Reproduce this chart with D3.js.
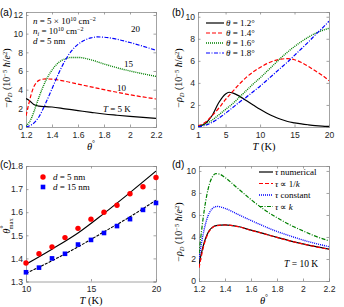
<!DOCTYPE html>
<html><head><meta charset="utf-8">
<script src="https://cdn.jsdelivr.net/npm/d3@7"></script>
<style>
body{margin:0;background:#fff}
text{font-family:"Liberation Sans",Arial,sans-serif}
.serif{font-family:"Liberation Serif","Times New Roman",serif}
</style></head>
<body><svg id="c" width="344" height="307"></svg>
<script>
// ---------- DATA ----------
// Panel (a): -rho_D vs theta for several T
const aTheta5  = [1.2,1.22,1.24,1.26,1.28,1.3,1.35,1.4,1.5,1.6,1.7,1.8,1.9,2.0,2.1,2.2];
const aT5      = [3.05,2.9,2.65,2.42,2.3,2.24,2.18,2.14,1.95,1.76,1.57,1.39,1.26,1.14,1.03,0.93];
const aTheta10 = [1.2,1.22,1.24,1.26,1.28,1.3,1.35,1.4,1.5,1.6,1.7,1.8,1.9,2.0,2.1,2.2];
const aT10     = [1.2,2.4,3.5,4.3,4.75,5.0,5.15,5.12,4.9,4.6,4.3,4.0,3.72,3.45,3.22,3.0];
const aTheta15 = [1.2,1.22,1.24,1.26,1.28,1.3,1.35,1.4,1.45,1.5,1.55,1.6,1.7,1.8,1.9,2.0,2.1,2.2];
const aT15     = [0.1,0.4,0.9,1.6,2.4,3.2,4.9,6.1,6.9,7.3,7.45,7.45,7.2,6.75,6.35,6.0,5.7,5.42];
const aTheta20 = [1.2,1.25,1.3,1.35,1.4,1.45,1.5,1.55,1.6,1.65,1.7,1.75,1.8,1.9,2.0,2.1,2.2];
const aT20     = [0.0,0.3,1.1,2.5,4.1,5.7,7.1,8.15,8.85,9.3,9.55,9.65,9.62,9.4,9.05,8.65,8.22];
const aLabels  = ["T = 5 K","10","15","20"];

// Panel (b): -rho_D vs T for several theta
const bT     = [1,2,3,4,5,5.5,6,7,8,9,10,11,12,13,14,15,16,17,18,19,20];
const b12    = [0.05,0.3,1.0,2.2,3.0,3.15,3.1,2.8,2.4,2.0,1.6,1.25,0.95,0.7,0.5,0.38,0.28,0.2,0.13,0.08,0.05];
const b14    = [0.1,0.4,1.0,1.7,2.5,2.85,3.2,3.9,4.5,5.0,5.4,5.75,6.0,6.15,6.2,6.1,5.85,5.5,5.1,4.7,4.2];
const b16    = [0.05,0.25,0.6,1.1,1.6,1.85,2.1,2.7,3.3,3.9,4.45,5.05,5.65,6.25,6.8,7.3,7.75,8.15,8.5,8.75,8.95];
const b18    = [0.02,0.15,0.4,0.8,1.25,1.5,1.75,2.25,2.7,3.2,3.7,4.25,4.8,5.35,5.9,6.5,7.1,7.7,8.35,8.95,9.6];
const bLegend = ["θ = 1.2°","θ = 1.4°","θ = 1.6°","θ = 1.8°"];

// Panel (c): theta_max vs T
const cT       = [10,11,12,13,14,15,16,17,18,19,20];
const cD5pts   = [1.38,1.42,1.45,1.49,1.53,1.57,1.60,1.63,1.68,1.71,1.75];
const cD15pts  = [1.34,1.36,1.40,1.42,1.46,1.48,1.51,1.54,1.57,1.61,1.64];
const cLineT   = [10,12,14,16,18,20];
const cD5line  = [1.375,1.44,1.51,1.595,1.685,1.778];
const cD15line = [1.335,1.39,1.45,1.515,1.58,1.652];
const cLegend  = ["d = 5 nm","d = 15 nm"];

// Panel (d): -rho_D vs theta at T = 10 K, different tau models
const dTheta   = [1.2,1.22,1.24,1.26,1.28,1.3,1.34,1.4,1.5,1.6,1.7,1.8,1.9,2.0,2.1,2.2];
const dNum     = [1.5,2.6,3.5,4.15,4.6,4.85,5.05,5.1,4.95,4.62,4.3,3.97,3.65,3.37,3.12,2.9];
const dInvK    = [1.2,2.35,3.35,4.05,4.55,4.82,5.04,5.09,4.94,4.61,4.29,3.96,3.64,3.36,3.11,2.88];
const dConst   = [2.0,3.5,4.7,5.6,6.2,6.55,6.78,6.6,6.05,5.5,4.98,4.5,4.1,3.72,3.4,3.12];
const dThetaK  = [1.2,1.22,1.24,1.26,1.28,1.3,1.33,1.36,1.4,1.5,1.6,1.7,1.8,1.9,2.0,2.1,2.2];
const dPropK   = [2.5,4.6,6.4,7.8,8.8,9.4,9.75,9.7,9.4,8.4,7.4,6.5,5.75,5.1,4.55,4.05,3.65];
const dLegend  = ["τ numerical","τ ∝ 1/k","τ constant","τ ∝ k"];

const thetaTicks = [1.2,1.4,1.6,1.8,2,2.2];
const rhoTicksA  = [0,2,4,6,8,10,12];
const rhoTicks   = [0,2,4,6,8,10];
const bTTicks    = [1,5,10,15,20];
const cTTicks    = [10,15,20];
const cYTicks    = [1.3,1.4,1.5,1.6,1.7,1.8];

// ---------- DRAW ----------
const svg = d3.select("#c");
const AX="#8c8c8c", TXT="#262626";
const RED="#ff0000", GRN="#008000", BLU="#0000ff", BLK="#000000";
const styles = {
  solid:{c:BLK,d:null,w:1.2},
  red:{c:RED,d:"4,2",w:1.2},
  green:{c:GRN,d:"1,1",w:1.4},
  blue:{c:BLU,d:"4,1.5,1,1.5",w:1.2}
};

function panel(o){
  const g = svg.append("g");
  const x = d3.scaleLinear().domain(o.xd).range([o.l,o.r]);
  const y = d3.scaleLinear().domain(o.yd).range([o.b,o.t]);
  const clipId = "clip"+o.id;
  svg.append("clipPath").attr("id",clipId).append("rect")
    .attr("x",o.l).attr("y",o.t).attr("width",o.r-o.l).attr("height",o.b-o.t);
  const fmt = o.fmt || (d=>d);
  const axB = d3.axisBottom(x).tickValues(o.xt).tickSize(-2.5).tickPadding(4.5).tickFormat(fmt);
  const axT = d3.axisTop(x).tickValues(o.xt).tickSize(-2.5).tickFormat("");
  const axL = d3.axisLeft(y).tickValues(o.yt).tickSize(-2.5).tickPadding(3).tickFormat(o.yfmt||(d=>d));
  const axR = d3.axisRight(y).tickValues(o.yt).tickSize(-2.5).tickFormat("");
  [[axB,`translate(0,${o.b})`],[axT,`translate(0,${o.t})`],[axL,`translate(${o.l},0)`],[axR,`translate(${o.r},0)`]]
  .forEach(([a,tr])=>{
    const ag=g.append("g").attr("transform",tr).call(a);
    ag.select(".domain").attr("stroke",AX).attr("stroke-width",0.8);
    ag.selectAll(".tick line").attr("stroke",AX).attr("stroke-width",0.8);
    ag.selectAll(".tick text").attr("fill",TXT).attr("font-size",8.6)
      .attr("font-family","'Liberation Sans',Arial,sans-serif");
  });
  svg.append("text").attr("x",o.pl[0]).attr("y",o.pl[1]).attr("font-size",10).attr("fill","#000").text(o.name);
  const lg = g.append("g").attr("clip-path",`url(#${clipId})`);
  return {g,x,y,lg};
}

function curve(P,xs,ys,st){
  const line = d3.line().x(d=>P.x(d[0])).y(d=>P.y(d[1])).curve(d3.curveMonotoneX);
  P.lg.append("path").datum(xs.map((v,i)=>[v,ys[i]]))
    .attr("d",line).attr("fill","none").attr("stroke",st.c)
    .attr("stroke-width",st.w).attr("stroke-dasharray",st.d);
}

function rhoLabel(cx,cy){
  const t = svg.append("text").attr("class","serif").attr("font-size",10).attr("fill","#000")
    .attr("text-anchor","middle").attr("transform",`translate(${cx},${cy}) rotate(-90)`);
  t.append("tspan").text("−");
  t.append("tspan").attr("font-style","italic").text("ρ");
  t.append("tspan").attr("font-size",6.5).attr("dy",2).attr("font-style","italic").text("D");
  t.append("tspan").attr("dy",-2).text(" (10");
  t.append("tspan").attr("font-size",6.5).attr("dy",-3.5).text("−5");
  t.append("tspan").attr("dy",3.5).attr("font-style","italic").text(" ħ");
  t.append("tspan").text("/");
  t.append("tspan").attr("font-style","italic").text("e");
  t.append("tspan").attr("font-size",6.5).attr("dy",-3.5).text("2");
  t.append("tspan").attr("dy",3.5).text(")");
}
function thetaXLabel(cx,cy){
  const t=svg.append("text").attr("class","serif").attr("font-size",10.5).attr("text-anchor","middle")
    .attr("x",cx).attr("y",cy);
  t.append("tspan").attr("font-style","italic").text("θ");
  t.append("tspan").attr("font-size",7.5).attr("dy",-4).text("°");
}
function TLabel(cx,cy){
  const t=svg.append("text").attr("class","serif").attr("font-size",10.5).attr("text-anchor","middle")
    .attr("x",cx).attr("y",cy);
  t.append("tspan").attr("font-style","italic").text("T");
  t.append("tspan").text(" (K)");
}

// (a)
const A = panel({id:"a",name:"(a)",pl:[0,16],l:26,r:156,t:12,b:127,xd:[1.2,2.2],yd:[0,12.32],
  xt:thetaTicks,yt:rhoTicksA});
curve(A,aTheta5,aT5,styles.solid);
curve(A,aTheta10,aT10,styles.red);
curve(A,aTheta15,aT15,styles.green);
curve(A,aTheta20,aT20,styles.blue);
rhoLabel(10,78);
thetaXLabel(91,150);
{
  const s=9;
  let t=svg.append("text").attr("class","serif").attr("font-size",s).attr("x",33).attr("y",24);
  t.append("tspan").attr("font-style","italic").text("n");
  t.append("tspan").text(" = 5 × 10");
  t.append("tspan").attr("font-size",6).attr("dy",-3.5).text("10");
  t.append("tspan").attr("dy",3.5).text(" cm");
  t.append("tspan").attr("font-size",6).attr("dy",-3.5).text("−2");
  t=svg.append("text").attr("class","serif").attr("font-size",s).attr("x",33).attr("y",34);
  t.append("tspan").attr("font-style","italic").text("n");
  t.append("tspan").attr("font-size",6).attr("dy",1.5).attr("font-style","italic").text("i");
  t.append("tspan").attr("dy",-1.5).text(" = 10");
  t.append("tspan").attr("font-size",6).attr("dy",-3.5).text("10");
  t.append("tspan").attr("dy",3.5).text(" cm");
  t.append("tspan").attr("font-size",6).attr("dy",-3.5).text("−2");
  t=svg.append("text").attr("class","serif").attr("font-size",s).attr("x",33).attr("y",44);
  t.append("tspan").attr("font-style","italic").text("d");
  t.append("tspan").text(" = 5 nm");
  t=svg.append("text").attr("class","serif").attr("font-size",s).attr("x",103).attr("y",112);
  t.append("tspan").attr("font-style","italic").text("T");
  t.append("tspan").text(aLabels[0].slice(1));
  svg.append("text").attr("class","serif").attr("font-size",s).attr("x",117).attr("y",91).text(aLabels[1]);
  svg.append("text").attr("class","serif").attr("font-size",s).attr("x",124).attr("y",67).text(aLabels[2]);
  svg.append("text").attr("class","serif").attr("font-size",s).attr("x",131).attr("y",32).text(aLabels[3]);
}

// (b)
const B = panel({id:"b",name:"(b)",pl:[172,16],l:198,r:329,t:12,b:127,xd:[1,20],yd:[0,10.43],
  xt:bTTicks,yt:rhoTicks});
curve(B,bT,b12,styles.solid);
curve(B,bT,b14,styles.red);
curve(B,bT,b16,styles.green);
curve(B,bT,b18,styles.blue);
rhoLabel(182,78);
TLabel(264,150);
{
  const st=[styles.solid,styles.red,styles.green,styles.blue];
  bLegend.forEach((lab,i)=>{
    const yy=23+i*10;
    svg.append("line").attr("x1",206).attr("x2",224).attr("y1",yy).attr("y2",yy)
      .attr("stroke",st[i].c).attr("stroke-width",st[i].w).attr("stroke-dasharray",st[i].d);
    const t=svg.append("text").attr("class","serif").attr("font-size",9).attr("x",226).attr("y",yy+3);
    t.append("tspan").attr("font-style","italic").text("θ");
    t.append("tspan").text(lab.slice(1));
  });
}

// (c)
const C = panel({id:"c",name:"(c)",pl:[0,168],l:26,r:156,t:166,b:281.5,xd:[10,20],yd:[1.3,1.8],
  xt:cTTicks,yt:cYTicks,yfmt:d3.format(".1f")});
curve(C,cLineT,cD5line,{c:BLK,d:null,w:1.1});
curve(C,cLineT,cD15line,{c:BLK,d:"3,1.2",w:1.1});
C.g.selectAll(".pc").data(cT).enter().append("circle")
  .attr("cx",d=>C.x(d)).attr("cy",(d,i)=>C.y(cD5pts[i])).attr("r",2.7).attr("fill",RED);
C.g.selectAll(".ps").data(cT).enter().append("rect")
  .attr("x",d=>C.x(d)-2.3).attr("y",(d,i)=>C.y(cD15pts[i])-2.3).attr("width",4.6).attr("height",4.6).attr("fill",BLU);
{
  svg.append("circle").attr("cx",43).attr("cy",177).attr("r",2.7).attr("fill",RED);
  svg.append("rect").attr("x",40.7).attr("y",184.7).attr("width",4.6).attr("height",4.6).attr("fill",BLU);
  [[cLegend[0],180],[cLegend[1],190]].forEach(([lab,yy])=>{
    const t=svg.append("text").attr("class","serif").attr("font-size",9).attr("x",53).attr("y",yy);
    t.append("tspan").attr("font-style","italic").text("d");
    t.append("tspan").text(lab.slice(1));
  });
  const t=svg.append("text").attr("class","serif").attr("font-size",10.5).attr("text-anchor","middle")
    .attr("transform","translate(10,226) rotate(-90)");
  t.append("tspan").attr("font-style","italic").text("θ");
  t.append("tspan").attr("font-size",7.5).attr("dy",-4).text("°");
  t.append("tspan").attr("font-size",6.5).attr("dy",7).attr("dx",-4).text("max");
}
TLabel(91,304);

// (d)
const D = panel({id:"d",name:"(d)",pl:[172,168],l:199,r:329,t:166,b:281,xd:[1.2,2.2],yd:[0,10.45],
  xt:thetaTicks,yt:rhoTicks});
const dSt = [styles.solid,{c:RED,d:"4,2",w:1.2},{c:BLU,d:"1,1",w:1.4},{c:GRN,d:"4,1.5,1,1.5",w:1.2}];
curve(D,dTheta,dNum,dSt[0]);
curve(D,dTheta,dInvK,dSt[1]);
curve(D,dTheta,dConst,dSt[2]);
curve(D,dThetaK,dPropK,dSt[3]);
rhoLabel(182,232);
thetaXLabel(264,304);
{
  dLegend.forEach((lab,i)=>{
    const yy=172+i*11.5;
    svg.append("line").attr("x1",259).attr("x2",273).attr("y1",yy).attr("y2",yy)
      .attr("stroke",dSt[i].c).attr("stroke-width",dSt[i].w).attr("stroke-dasharray",dSt[i].d);
    const t=svg.append("text").attr("class","serif").attr("font-size",9).attr("x",275).attr("y",yy+3);
    t.append("tspan").attr("font-style","italic").text("τ");
    const rest=lab.slice(1);
    if(rest.endsWith("k")){
      t.append("tspan").text(rest.slice(0,-1));
      t.append("tspan").attr("font-style","italic").text("k");
    } else t.append("tspan").text(rest);
  });
  const t=svg.append("text").attr("class","serif").attr("font-size",9.5).attr("x",284).attr("y",267);
  t.append("tspan").attr("font-style","italic").text("T");
  t.append("tspan").text(" = 10 K");
}
</script></body></html>
